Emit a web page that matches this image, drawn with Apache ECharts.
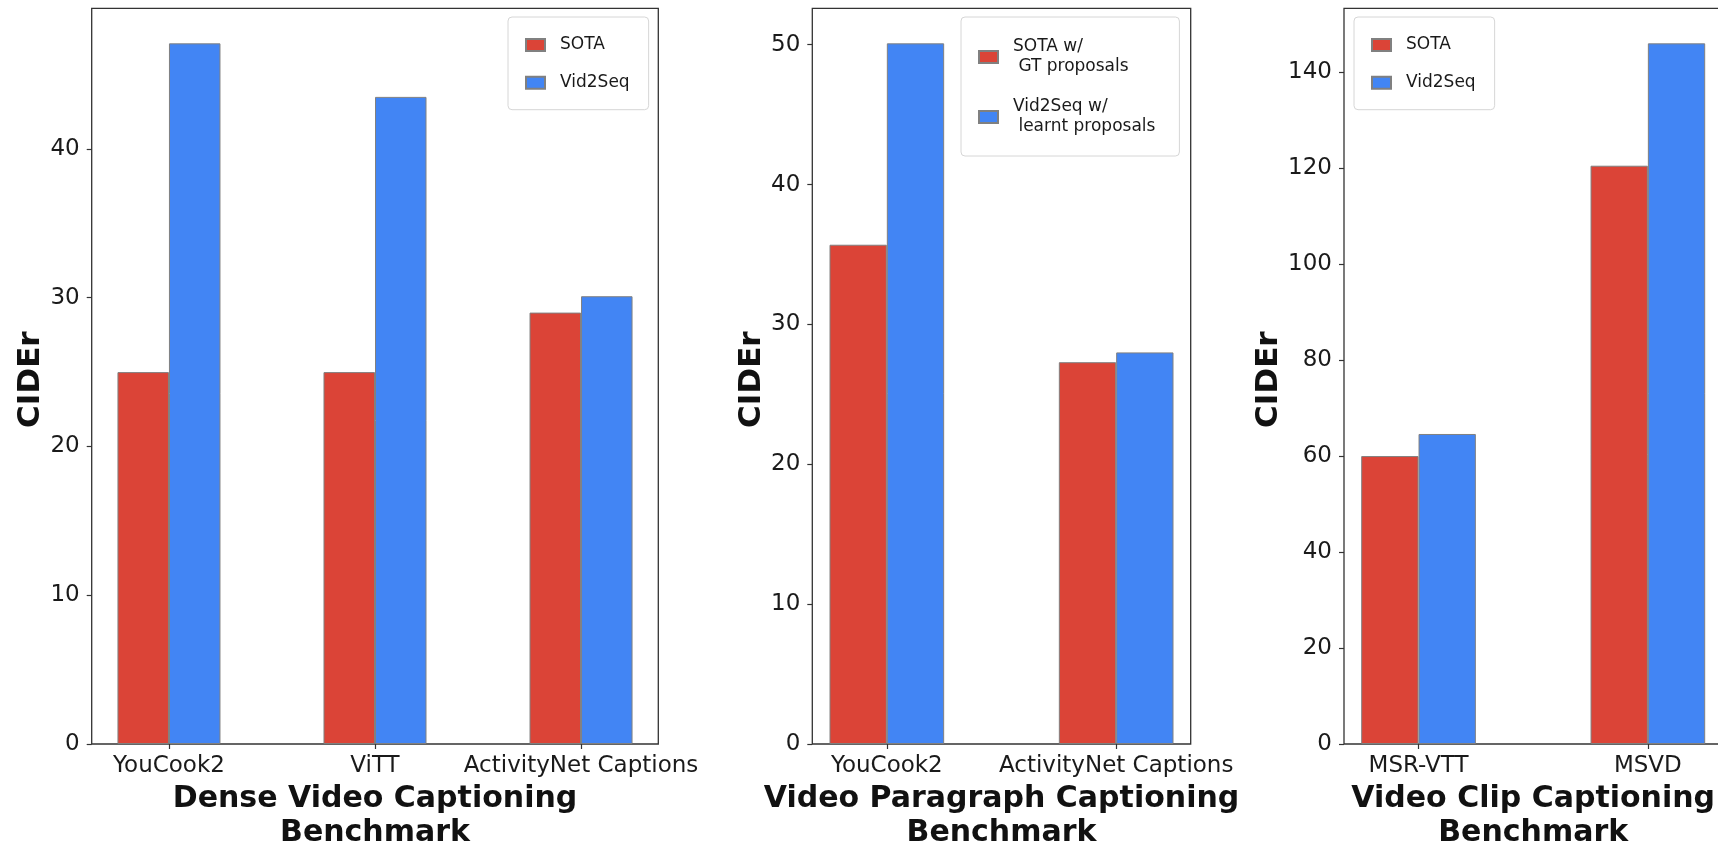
<!DOCTYPE html>
<html><head><meta charset="utf-8">
<script src="https://cdn.jsdelivr.net/npm/echarts@6/dist/echarts.min.js"></script>
<style>html,body{margin:0;padding:0;background:#fff}#c{width:1718px;height:844px}</style>
</head><body><div id="c"></div>
<script>
// ---- data ----
const denseCategories = ['YouCook2', 'ViTT', 'ActivityNet Captions'];
const denseSota = [25.0, 25.0, 29.0];
const denseVid2Seq = [47.1, 43.5, 30.1];
const denseYTicks = [0, 10, 20, 30, 40];
const denseNames = ['SOTA', 'Vid2Seq'];
const denseTitle = 'Dense Video Captioning\nBenchmark';

const paraCategories = ['YouCook2', 'ActivityNet Captions'];
const paraSota = [35.7, 27.3];
const paraVid2Seq = [50.1, 28.0];
const paraYTicks = [0, 10, 20, 30, 40, 50];
const paraNames = ['SOTA w/\n GT proposals', 'Vid2Seq w/\n learnt proposals'];
const paraTitle = 'Video Paragraph Captioning\nBenchmark';

const clipCategories = ['MSR-VTT', 'MSVD'];
const clipSota = [60.0, 120.5];
const clipVid2Seq = [64.6, 146.0];
const clipYTicks = [0, 20, 40, 60, 80, 100, 120, 140];
const clipNames = ['SOTA', 'Vid2Seq'];
const clipTitle = 'Video Clip Captioning\nBenchmark';

const yLabel = 'CIDEr';

// ---- styling / layout ----
const FONT = 'DejaVu Sans';
const RED = '#DB4437', BLUE = '#4285F4';
const panels = [
  {cats: denseCategories, a: denseSota, b: denseVid2Seq, ticks: denseYTicks, names: denseNames, title: denseTitle,
   grid: {left: 91.7, top: 8.3, width: 566.6, height: 735.7}, xmin: -0.375, xmax: 2.375,
   legend: {left: 508, top: 17, padding: [18, 19, 17, 17], itemGap: 17.7}},
  {cats: paraCategories, a: paraSota, b: paraVid2Seq, ticks: paraYTicks, names: paraNames, title: paraTitle,
   grid: {left: 812.3, top: 8.3, width: 378.4, height: 735.7}, xmin: -0.325, xmax: 1.325,
   legend: {left: 961, top: 17, padding: [20, 24, 19, 17], itemGap: 20}},
  {cats: clipCategories, a: clipSota, b: clipVid2Seq, ticks: clipYTicks, names: clipNames, title: clipTitle,
   grid: {left: 1344, top: 8.3, width: 378.4, height: 735.7}, xmin: -0.325, xmax: 1.325,
   legend: {left: 1354, top: 17, padding: [18, 19, 17, 17], itemGap: 17.7}}
];

const option = {
  backgroundColor: '#fff',
  animation: false,
  textStyle: {fontFamily: FONT},
  grid: [], xAxis: [], yAxis: [], series: [], legend: []
};

panels.forEach((p, i) => {
  const ymax = Math.max(...p.a, ...p.b) * 1.05;
  option.grid.push(Object.assign({show: true, borderColor: '#333', borderWidth: 1.3, backgroundColor: 'transparent',
    containLabel: false, outerBoundsMode: 'none'}, p.grid));
  option.xAxis.push({
    type: 'value', gridIndex: i, min: p.xmin, max: p.xmax,
    axisLine: {show: false, onZero: false},
    splitLine: {show: false},
    axisTick: {show: true, customValues: p.cats.map((c, k) => k), length: 5, lineStyle: {color: '#333', width: 1.2}},
    axisLabel: {customValues: p.cats.map((c, k) => k), formatter: v => p.cats[Math.round(v)],
      fontSize: 23, color: '#1a1a1a', margin: 10.5, fontFamily: FONT},
    name: p.title, nameLocation: 'middle', nameGap: 36,
    nameTextStyle: {fontSize: 30, fontWeight: 'bold', color: '#111', lineHeight: 34, fontFamily: FONT}
  });
  option.yAxis.push({
    type: 'value', gridIndex: i, min: 0, max: ymax,
    axisLine: {show: false, onZero: false},
    splitLine: {show: false},
    axisTick: {show: true, customValues: p.ticks, length: 5, lineStyle: {color: '#333', width: 1.2}},
    axisLabel: {customValues: p.ticks, fontSize: 23, color: '#1a1a1a', margin: 12, fontFamily: FONT},
    name: yLabel, nameLocation: 'middle', nameRotate: 90, nameGap: 41,
    nameTextStyle: {fontSize: 31, fontWeight: 'bold', color: '#111', fontFamily: FONT, padding: [0, 7, 0, 0]}
  });
  const mk = (name, vals, color) => ({
    type: 'bar', name, xAxisIndex: i, yAxisIndex: i,
    data: vals.map((v, k) => [k, v]),
    barWidth: '25%', barGap: '0%',
    itemStyle: {color, borderColor: '#808080', borderWidth: 1}
  });
  option.series.push(mk(p.names[0], p.a, RED));
  option.series.push(mk(p.names[1], p.b, BLUE));
  option.legend.push({
    data: p.names, orient: 'vertical', left: p.legend.left, top: p.legend.top,
    padding: p.legend.padding, itemGap: p.legend.itemGap,
    itemWidth: 19, itemHeight: 12, icon: 'rect',
    backgroundColor: '#fff', borderColor: '#d6d6d6', borderWidth: 1, borderRadius: 4,
    selectedMode: false,
    textStyle: {fontSize: 17, lineHeight: 20, color: '#1a1a1a', fontFamily: FONT, padding: [0, 0, 0, 10]}
  });
});

const chart = echarts.init(document.getElementById('c'), null, {renderer: 'canvas'});
chart.setOption(option);
</script></body></html>
